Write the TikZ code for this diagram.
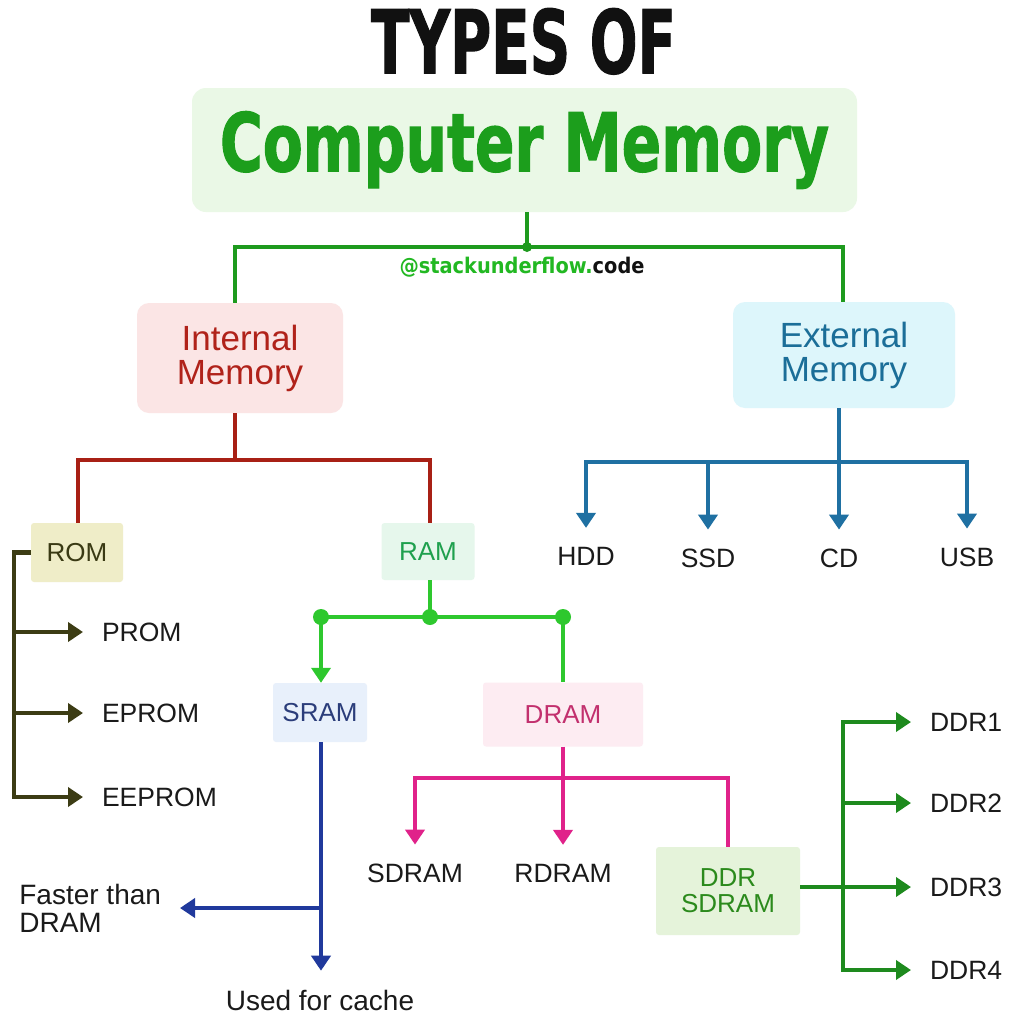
\documentclass[tikz,border=0pt]{standalone}
\usepackage{fontspec}
\setmainfont{Liberation Sans}
\newfontfamily\titlefont{DejaVu Sans Condensed Bold}[FakeBold=1.5]
\newfontfamily\wmfont{DejaVu Sans Condensed Bold}
\usetikzlibrary{arrows.meta}
\definecolor{titleblack}{HTML}{111111}
\definecolor{titlegreen}{HTML}{1C9E1C}
\definecolor{titlefill}{HTML}{EAF8E6}
\definecolor{wmgreen}{HTML}{22B822}
\definecolor{glinec}{HTML}{1E9A1E}
\definecolor{imfill}{HTML}{FBE5E5}
\definecolor{imtext}{HTML}{B0221A}
\definecolor{rlinec}{HTML}{A82015}
\definecolor{emfill}{HTML}{DDF6FB}
\definecolor{emtext}{HTML}{1B6E98}
\definecolor{blinec}{HTML}{1F70A2}
\definecolor{romfill}{HTML}{EFEDC8}
\definecolor{romtext}{HTML}{3A3A14}
\definecolor{olinec}{HTML}{3C3C14}
\definecolor{ramfill}{HTML}{E6F7EC}
\definecolor{ramtext}{HTML}{1FA04E}
\definecolor{lglinec}{HTML}{2EC82E}
\definecolor{sramfill}{HTML}{E8F0FB}
\definecolor{sramtext}{HTML}{2B3D7A}
\definecolor{nlinec}{HTML}{20399C}
\definecolor{dramfill}{HTML}{FDECF2}
\definecolor{dramtext}{HTML}{C2306E}
\definecolor{mlinec}{HTML}{E0228A}
\definecolor{ddrfill}{HTML}{E5F3DA}
\definecolor{ddrtext}{HTML}{2B8A1C}
\definecolor{dlinec}{HTML}{1E8A1E}
\definecolor{leaftext}{HTML}{1A1A1A}
\begin{document}
\begin{tikzpicture}[x=1pt,y=-1pt,
  bigbox/.style={rounded corners=12pt, inner sep=0pt, align=center, font=\fontsize{35pt}{34pt}\selectfont},
  smallbox/.style={rounded corners=3pt, inner sep=0pt, align=center, font=\fontsize{26pt}{26pt}\selectfont},
  leaf/.style={inner sep=0pt, outer sep=19pt, text=leaftext, font=\fontsize{26.5pt}{28pt}\selectfont},
  leafl/.style={leaf, font=\fontsize{28pt}{28pt}\selectfont},
  tip/.style={-{Triangle[length=15pt,width=19pt]}},
  tips/.style={{Triangle[length=15pt,width=19pt]}-{Triangle[length=15pt,width=19pt]}},
  gline/.style={draw=glinec, line width=4pt},
  rline/.style={draw=rlinec, line width=4.5pt},
  bline/.style={draw=blinec, line width=4.5pt},
  oline/.style={draw=olinec, line width=4.5pt},
  lgline/.style={draw=lglinec, line width=4.5pt},
  nline/.style={draw=nlinec, line width=4pt},
  mline/.style={draw=mlinec, line width=4pt},
  dline/.style={draw=dlinec, line width=4.5pt}]
\path[use as bounding box, fill=white] (0,0) rectangle (1024,1017);

% title
\node[inner sep=0pt, anchor=north, text=titleblack] (types) at (523.5,8) {\resizebox{305pt}{65pt}{\titlefont TYPES OF}};
\node[fill=titlefill, rounded corners=14pt, inner sep=0pt, minimum width=665pt, minimum height=124pt, text=titlegreen] (cm) at (524.5,150) {\resizebox{609pt}{60pt}{\titlefont Computer Memory}};
\node[inner sep=0pt] (wm) at (522,267) {\resizebox{245pt}{!}{\wmfont\textcolor{wmgreen}{@stackunderflow.}\textcolor{titleblack}{code}}};

% level 1
\node[bigbox, fill=imfill, text=imtext, minimum width=206pt, minimum height=110pt] (im) at (240,358) {Internal\\Memory};
\node[bigbox, fill=emfill, text=emtext, minimum width=222pt, minimum height=106pt] (em) at (844,355) {External\\Memory};

\coordinate (tj) at (527,247);
\coordinate (tl) at (235,247);
\coordinate (tr) at (843,247);
\draw[gline] (cm.south -| tj) -- (tj);
\draw[gline] (im.north -| tl) -- (tl) -- (tr) -- (em.north -| tr);
\fill[glinec] (tj) circle[radius=5pt];

% internal
\node[smallbox, fill=romfill, text=romtext, minimum width=92pt, minimum height=59pt] (rom) at (77,552.5) {ROM};
\node[smallbox, fill=ramfill, text=ramtext, minimum width=93pt, minimum height=57pt] (ram) at (428,551.5) {RAM};
\coordinate (rj) at (235,460);
\coordinate (rl) at (78,460);
\coordinate (rr) at (430,460);
\draw[rline] (im.south -| rj) -- (rj);
\draw[rline] (rom.north -| rl) -- (rl) -- (rr) -- (ram.north -| rr);

% ROM branch
\node[leaf, anchor=west] (prom) at (83,632) {PROM};
\node[leaf, anchor=west] (eprom) at (83,713) {EPROM};
\node[leaf, anchor=west] (eeprom) at (83,797) {EEPROM};
\coordinate (ob) at (14,797);
\draw[oline, tip] (rom.west) -- (rom.west -| ob) -- (ob) -- (eeprom.west);
\draw[oline, tip] (prom.west -| ob) -- (prom.west);
\draw[oline, tip] (eprom.west -| ob) -- (eprom.west);

% external branch
\node[leaf] (hdd) at (586,556) {HDD};
\node[leaf] (ssd) at (708,558) {SSD};
\node[leaf] (cd) at (839,558) {CD};
\node[leaf] (usb) at (967,557) {USB};
\coordinate (ej) at (839,462);
\draw[bline] (em.south -| ej) -- (ej);
\draw[bline, tips] (hdd.north) -- (hdd.north |- ej) -- (usb.north |- ej) -- (usb.north);
\draw[bline, tip] (ssd.north |- ej) -- (ssd.north);
\draw[bline, tip] (cd.north |- ej) -- (cd.north);

% RAM branch
\node[smallbox, fill=sramfill, text=sramtext, minimum width=94pt, minimum height=59pt] (sram) at (320,712.5) {SRAM};
\node[smallbox, fill=dramfill, text=dramtext, minimum width=160pt, minimum height=64pt] (dram) at (563,714.5) {DRAM};
\coordinate (rc) at (430,617);
\coordinate (rlft) at (321,617);
\coordinate (rrt) at (563,617);
\draw[lgline] (ram.south -| rc) -- (rc);
\draw[lgline] (rlft) -- (rrt);
\draw[lgline, tip] (rlft) -- (sram.north -| rlft);
\draw[lgline] (rrt) -- (dram.north -| rrt);
\fill[lglinec] (rlft) circle[radius=8pt];
\fill[lglinec] (rc) circle[radius=8pt];
\fill[lglinec] (rrt) circle[radius=8pt];

% SRAM branch
\node[leafl, align=left, anchor=east] (fast) at (180,908) {Faster than\\DRAM};
\node[leafl] (cache) at (320,1000) {Used for cache};
\coordinate (sj) at (321,908);
\draw[nline, tip] (sram.south -| sj) -- (cache.north -| sj);
\draw[nline, tip] (sj) -- (fast.east);

% DRAM branch
\node[leaf] (sdram) at (415,873) {SDRAM};
\node[leaf] (rdram) at (563,873) {RDRAM};
\node[smallbox, fill=ddrfill, text=ddrtext, minimum width=144pt, minimum height=88pt] (ddr) at (728,891) {DDR\\SDRAM};
\coordinate (mj) at (563,778);
\draw[mline] (dram.south -| mj) -- (mj);
\draw[mline, tip] (ddr.north) -- (ddr.north |- mj) -- (sdram.north |- mj) -- (sdram.north);
\draw[mline, tip] (mj) -- (rdram.north);

% DDR branch
\node[leaf, anchor=west] (d1) at (911,722) {DDR1};
\node[leaf, anchor=west] (d2) at (911,803) {DDR2};
\node[leaf, anchor=west] (d3) at (911,887) {DDR3};
\node[leaf, anchor=west] (d4) at (911,970) {DDR4};
\coordinate (dt) at (843,722);
\draw[dline, tips] (d1.west) -- (d1.west -| dt) -- (d4.west -| dt) -- (d4.west);
\draw[dline, tip] (d2.west -| dt) -- (d2.west);
\draw[dline, tip] (ddr.east |- d3.west) -- (d3.west);
\end{tikzpicture}
\end{document}
